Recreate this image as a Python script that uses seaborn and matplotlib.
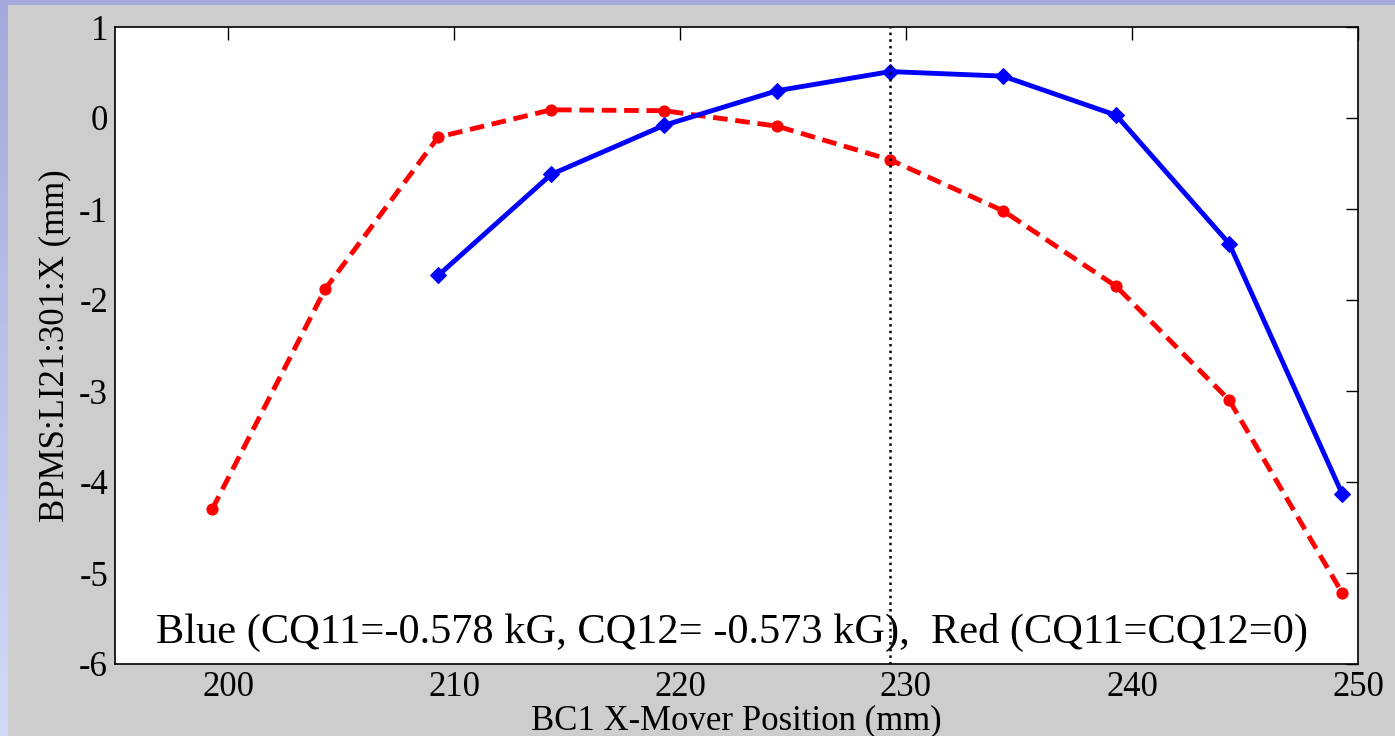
import matplotlib
matplotlib.use("Agg")
import matplotlib.pyplot as plt
import seaborn as sns
import numpy as np
import pandas as pd
from matplotlib.colors import LinearSegmentedColormap

blue_x = [209.3, 214.3, 219.3, 224.3, 229.3, 234.3, 239.3, 244.3, 249.3]
blue_y = [-1.73, -0.62, -0.08, 0.30, 0.51, 0.46, 0.03, -1.38, -4.13]
red_x = [199.3, 204.3, 209.3, 214.3, 219.3, 224.3, 229.3, 234.3, 239.3, 244.3, 249.3]
red_y = [-4.30, -1.88, -0.21, 0.09, 0.08, -0.09, -0.46, -1.02, -1.85, -3.10, -5.22]
vline_x = 229.3
x_ticks = [200, 210, 220, 230, 240, 250]
y_ticks = [1, 0, -1, -2, -3, -4, -5, -6]
annotation = "Blue (CQ11=-0.578 kG, CQ12= -0.573 kG),  Red (CQ11=CQ12=0)"

sns.set_style("white")
plt.rcParams['font.family'] = ['Liberation Serif', 'DejaVu Serif']
plt.rcParams['axes.unicode_minus'] = False

W, H = 1395, 736
fig = plt.figure(figsize=(W / 100, H / 100), dpi=100, facecolor='#cdcdcd')

# decorative slide border: left gradient strip and top strip
strip = fig.add_axes([0, 0, 8 / W, 1])
cmap = LinearSegmentedColormap.from_list('edge', ['#a4a8dc', '#d2daf8'])
strip.imshow(np.linspace(0, 1, 256).reshape(-1, 1), aspect='auto', cmap=cmap)
strip.set_axis_off()
top = fig.add_axes([0, 1 - 5 / H, 1, 5 / H])
top.set_facecolor('#a4a8dc')
top.set_xticks([]); top.set_yticks([])
for s in top.spines.values():
    s.set_visible(False)

ax = fig.add_axes([115 / W, 1 - 664 / H, (1358 - 115) / W, (664 - 27) / H])
ax.set_facecolor('white')

dfb = pd.DataFrame({'x': blue_x, 'y': blue_y})
dfr = pd.DataFrame({'x': red_x, 'y': red_y})
sns.lineplot(data=dfr, x='x', y='y', ax=ax, color='#ff0000', linewidth=3.5,
             linestyle=(0, (3, 1.6)), marker='o', markersize=8, markeredgecolor='#ff0000')
sns.lineplot(data=dfb, x='x', y='y', ax=ax, color='#0000ff', linewidth=3.5,
             marker='D', markersize=8.5, markeredgecolor='#0000ff')
ax.axvline(vline_x, color='black', linestyle=':', linewidth=1.8)

ax.set_xlim(195, 250)
ax.set_ylim(-6, 1)
ax.set_xticks(x_ticks)
ax.set_yticks(y_ticks)
ax.tick_params(axis='both', direction='in', length=9, width=1, top=True, right=True,
               labelsize=25, colors='black')
ax.tick_params(axis='x', pad=5)
ax.tick_params(axis='y', pad=5)
for s in ax.spines.values():
    s.set_color('black')
    s.set_linewidth(1.2)
    s.set_visible(True)

ax.set_xlabel('BC1 X-Mover Position (mm)', fontsize=25, labelpad=0.5, color='black')
ax.set_ylabel('BPMS:LI21:301:X (mm)', fontsize=25, labelpad=6, color='black')
ax.text(0.496, 0.05, annotation, transform=ax.transAxes, fontsize=30.5,
        ha='center', va='center', color='black')

fig.savefig('out.png', dpi=100, facecolor=fig.get_facecolor())
